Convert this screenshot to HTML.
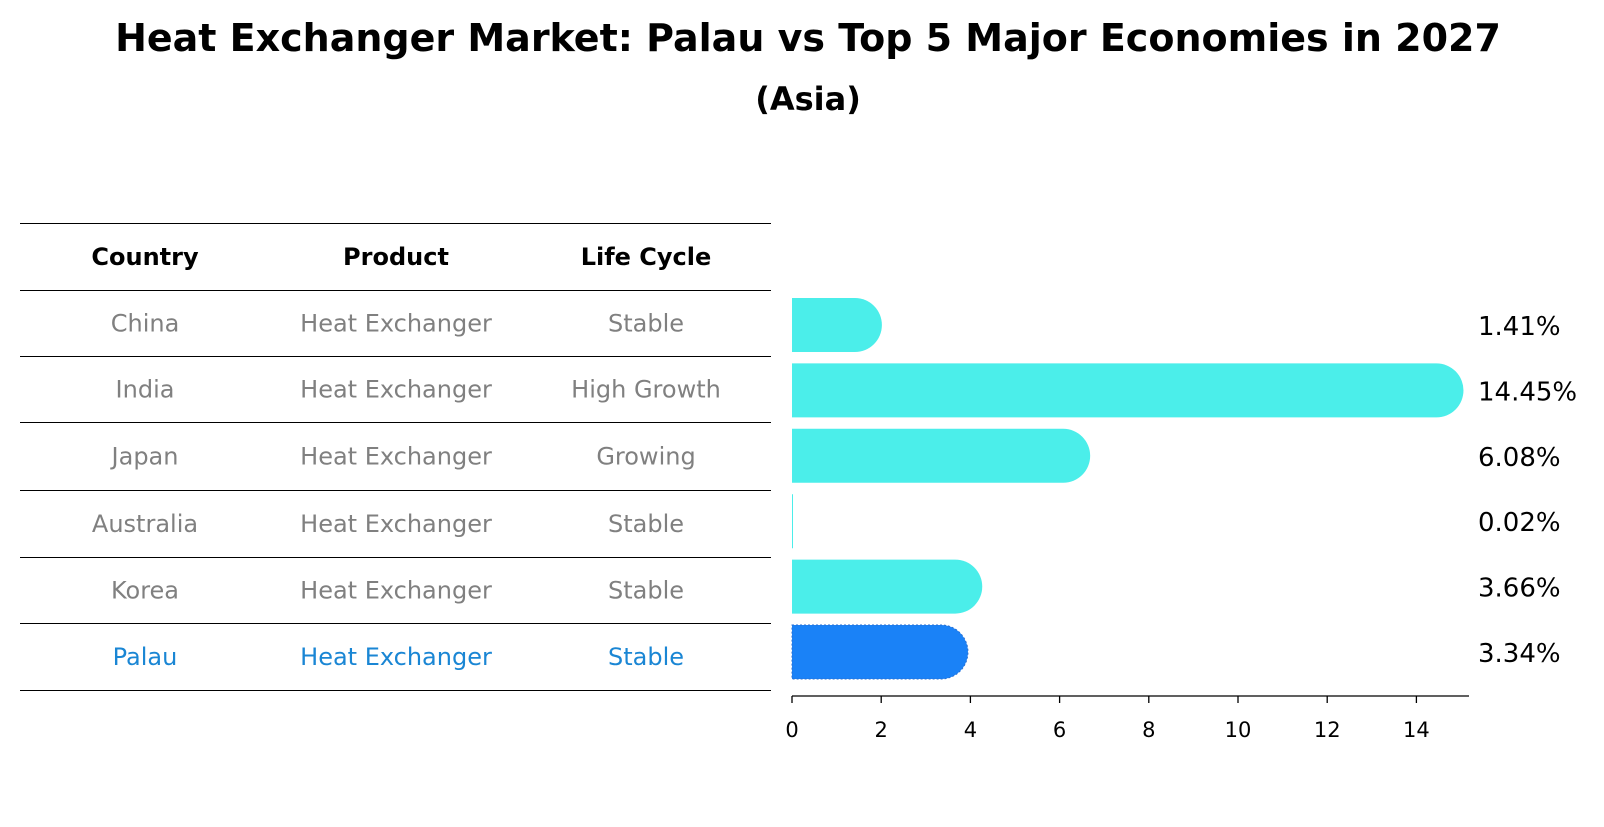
<!DOCTYPE html>
<html><head><meta charset="utf-8"><style>
body{margin:0;background:#fff;font-family:"DejaVu Sans","Liberation Sans",sans-serif}
</style></head><body>
<svg id="c" width="1604" height="823" xmlns="http://www.w3.org/2000/svg" font-family="DejaVu Sans, Liberation Sans, sans-serif">
<text x="808" y="51" text-anchor="middle" font-size="38" font-weight="bold">Heat Exchanger Market: Palau vs Top 5 Major Economies in 2027</text>
<text x="808" y="110" text-anchor="middle" font-size="32" font-weight="bold">(Asia)</text>
<g id="tbl"></g>
<g id="bars"></g>
<g id="axis"></g>
</svg>
<script>
const countries=["China","India","Japan","Australia","Korea","Palau"];
const lifecycle=["Stable","High Growth","Growing","Stable","Stable","Stable"];
const values=[1.41,14.45,6.08,0.02,3.66,3.34];
const ticks=[0,2,4,6,8,10,12,14];
const NS="http://www.w3.org/2000/svg";
function mk(t,a,p,txt){const e=document.createElementNS(NS,t);for(const k in a)e.setAttribute(k,a[k]);if(txt!==undefined)e.textContent=txt;p.appendChild(e);return e;}
const x0=792,ppu=44.6,bh=54;
const xs=v=>x0+v*ppu;
const ys=i=>325+i*65.4;
const tbl=document.getElementById('tbl'),bars=document.getElementById('bars'),axis=document.getElementById('axis');
const lines=[223,290,356,422,490,557,623,690];
lines.forEach(y=>{const l=mk('line',{x1:20,x2:771,y1:y+0.5,y2:y+0.5,stroke:'#000','stroke-width':1,'shape-rendering':'crispEdges'},tbl);

});
const cx=[145,396,646];
const fsT=24;
["Country","Product","Life Cycle"].forEach((h,j)=>{const t=mk('text',{x:cx[j],y:(lines[0]+lines[1])/2+fsT*0.36,'text-anchor':'middle','font-size':fsT,'font-weight':'bold'},tbl,h);

});
countries.forEach((c,i)=>{
 const y=(lines[i+1]+lines[i+2])/2+fsT*0.36,col=c==="Palau"?"#1a86d4":"#808080";
 [c,"Heat Exchanger",lifecycle[i]].forEach((s,j)=>{const t=mk('text',{x:cx[j],y:y,'text-anchor':'middle','font-size':fsT,fill:col},tbl,s);
 
 });
 const v=values[i],w=xs(v)-x0,r=bh/2,top=ys(i)-r;
 const fill=c==="Palau"?"#1a82f7":"#4beeea";
 let d;
 if(w<2){d=`M${x0},${top} H${x0+Math.max(w,1)} V${top+bh} H${x0} Z`;}
 else d=`M${x0},${top} H${x0+w} A${r},${r} 0 0 1 ${x0+w},${top+bh} H${x0} Z`;
 const b=mk('path',{d:d,fill:fill},bars);
 if(c==="Palau"){b.setAttribute('stroke','#2a6fd0');b.setAttribute('stroke-dasharray','2,2');}
 
 
 const t=mk('text',{x:1478,y:ys(i)+10,'font-size':26},bars,v.toFixed(2)+'%');
 
 
});
mk('line',{x1:x0,x2:1469,y1:696,y2:696,stroke:'#000','stroke-width':1.3},axis);
ticks.forEach(v=>{const l=mk('line',{x1:xs(v),x2:xs(v),y1:696,y2:703,stroke:'#000','stroke-width':1.3},axis);


const t=mk('text',{x:xs(v),y:737,'text-anchor':'middle','font-size':21},axis,String(v));

});
</script>
</body></html>
